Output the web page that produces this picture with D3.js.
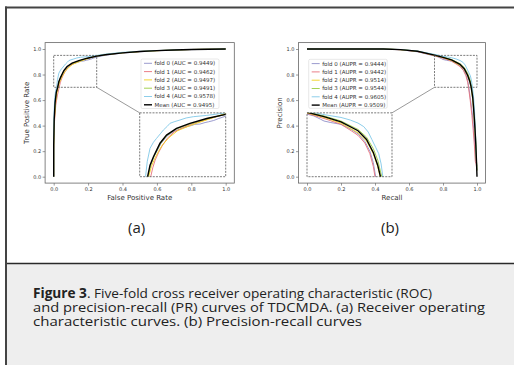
<!DOCTYPE html>
<html>
<head>
<meta charset="utf-8">
<script src="https://cdn.jsdelivr.net/npm/d3@7"></script>
<style>
  html, body { margin: 0; padding: 0; background: #fff; }
  svg { display: block; }
</style>
</head>
<body>
<svg id="fig" width="514" height="365"></svg>
<script>
// ROC curves, [false positive rate, true positive rate]
const rocFold0 = [[0,0],[0,0.25],[0.003,0.44],[0.009,0.58],[0.016,0.66],[0.024,0.70],[0.032,0.745],[0.042,0.78],[0.052,0.805],[0.062,0.83],[0.08,0.86],[0.1,0.878],[0.12,0.888],[0.14,0.897],[0.15,0.9],[0.16,0.905],[0.175,0.906],[0.19,0.912],[0.2,0.915],[0.215,0.92],[0.23,0.928],[0.25,0.937],[0.3,0.951],[0.4,0.968],[0.5,0.978],[0.6,0.986],[0.7,0.991],[0.8,0.995],[0.9,0.998],[1,1]];
const rocFold1 = [[0,0],[0,0.2],[0.004,0.42],[0.012,0.56],[0.022,0.64],[0.032,0.70],[0.038,0.735],[0.045,0.765],[0.055,0.795],[0.065,0.82],[0.08,0.85],[0.1,0.875],[0.13,0.895],[0.16,0.91],[0.2,0.926],[0.25,0.945],[0.3,0.955],[0.4,0.97],[0.5,0.98],[0.6,0.987],[0.7,0.992],[0.8,0.996],[0.9,0.998],[1,1]];
const rocFold2 = [[0,0],[0,0.22],[0.004,0.44],[0.01,0.57],[0.018,0.65],[0.026,0.70],[0.034,0.74],[0.044,0.772],[0.055,0.8],[0.066,0.824],[0.085,0.853],[0.11,0.88],[0.15,0.902],[0.2,0.925],[0.25,0.948],[0.3,0.957],[0.4,0.971],[0.5,0.98],[0.6,0.987],[0.7,0.992],[0.8,0.996],[0.9,0.998],[1,1]];
const rocFold3 = [[0,0],[0,0.24],[0.003,0.45],[0.009,0.58],[0.016,0.66],[0.024,0.70],[0.031,0.744],[0.04,0.776],[0.05,0.804],[0.06,0.829],[0.078,0.86],[0.105,0.886],[0.145,0.906],[0.195,0.927],[0.25,0.944],[0.3,0.955],[0.4,0.97],[0.5,0.98],[0.6,0.987],[0.7,0.992],[0.8,0.996],[0.9,0.998],[1,1]];
const rocFold4 = [[0,0],[0,0.3],[0.002,0.5],[0.006,0.62],[0.012,0.68],[0.017,0.70],[0.022,0.76],[0.03,0.811],[0.04,0.835],[0.049,0.85],[0.06,0.868],[0.069,0.883],[0.08,0.897],[0.088,0.909],[0.1,0.915],[0.117,0.922],[0.135,0.93],[0.156,0.935],[0.195,0.94],[0.25,0.95],[0.3,0.96],[0.4,0.974],[0.5,0.982],[0.6,0.988],[0.7,0.993],[0.8,0.996],[0.9,0.998],[1,1]];
const rocMean = [[0,0],[0,0.25],[0.003,0.45],[0.008,0.58],[0.015,0.66],[0.023,0.70],[0.03,0.745],[0.04,0.778],[0.05,0.806],[0.059,0.831],[0.078,0.863],[0.107,0.889],[0.146,0.909],[0.195,0.928],[0.25,0.944],[0.3,0.955],[0.4,0.97],[0.5,0.98],[0.6,0.987],[0.7,0.992],[0.8,0.996],[0.9,0.998],[1,1]];

// PR curves, [recall, precision]
const prFold0 = [[0,1],[0.3,1],[0.45,1],[0.55,0.994],[0.65,0.978],[0.75,0.945],[0.77,0.938],[0.79,0.925],[0.8,0.918],[0.82,0.912],[0.85,0.905],[0.88,0.885],[0.9,0.868],[0.92,0.838],[0.935,0.8],[0.945,0.755],[0.952,0.70],[0.962,0.6],[0.972,0.5],[0.98,0.38],[0.988,0.25],[0.994,0.13],[1,0.08]];
const prFold1 = [[0,1],[0.3,1],[0.45,1],[0.55,0.994],[0.65,0.98],[0.75,0.948],[0.8,0.928],[0.85,0.905],[0.88,0.88],[0.9,0.862],[0.92,0.832],[0.935,0.79],[0.945,0.74],[0.95,0.70],[0.96,0.6],[0.97,0.48],[0.978,0.36],[0.985,0.24],[0.99,0.12],[0.995,0.1],[1,0.05]];
const prFold2 = [[0,1],[0.3,1],[0.45,1],[0.55,0.995],[0.65,0.982],[0.75,0.95],[0.8,0.932],[0.85,0.91],[0.9,0.872],[0.925,0.84],[0.945,0.79],[0.958,0.74],[0.965,0.70],[0.975,0.6],[0.982,0.48],[0.988,0.36],[0.993,0.24],[0.997,0.12],[1,0.05]];
const prFold3 = [[0,1],[0.3,1],[0.45,1],[0.55,0.995],[0.65,0.983],[0.75,0.954],[0.8,0.938],[0.85,0.918],[0.9,0.885],[0.925,0.855],[0.945,0.81],[0.958,0.765],[0.97,0.70],[0.978,0.6],[0.985,0.48],[0.99,0.36],[0.994,0.24],[0.997,0.12],[1,0.05]];
const prFold4 = [[0,1],[0.3,1],[0.45,1],[0.55,0.996],[0.65,0.984],[0.75,0.958],[0.8,0.943],[0.85,0.932],[0.877,0.922],[0.9,0.91],[0.917,0.896],[0.93,0.875],[0.941,0.845],[0.952,0.815],[0.961,0.79],[0.968,0.75],[0.973,0.70],[0.98,0.62],[0.986,0.5],[0.99,0.38],[0.994,0.25],[0.997,0.12],[1,0.05]];
const prMean = [[0,1],[0.3,1],[0.45,1],[0.55,0.995],[0.65,0.982],[0.75,0.952],[0.8,0.935],[0.85,0.915],[0.9,0.88],[0.925,0.846],[0.945,0.795],[0.958,0.745],[0.966,0.70],[0.975,0.62],[0.982,0.5],[0.988,0.38],[0.993,0.25],[0.997,0.12],[1,0]];

const seriesNames = ['fold 0', 'fold 1', 'fold 2', 'fold 3', 'fold 4', 'Mean'];
const seriesColors = ['#9090c8', '#e8707a', '#f2d01c', '#9acd40', '#80c8e8', '#000000'];
const aucValues = ['0.9449', '0.9462', '0.9497', '0.9491', '0.9578', '0.9495'];
const auprValues = ['0.9444', '0.9442', '0.9514', '0.9544', '0.9605', '0.9509'];
const tickValues = [0, 0.2, 0.4, 0.6, 0.8, 1.0];

const rocSeries = [rocFold0, rocFold1, rocFold2, rocFold3, rocFold4, rocMean];
const prSeries = [prFold0, prFold1, prFold2, prFold3, prFold4, prMean];

const svg = d3.select('#fig');
const tickFont = 'DejaVu Sans, sans-serif';

function drawPanel(cfg) {
  const x = d3.scaleLinear().domain([0, 1]).range([cfg.x0, cfg.x1]);
  const y = d3.scaleLinear().domain([0, 1]).range([cfg.y0, cfg.y1]);
  const g = svg.append('g');
  const bx0 = x(-0.05), bx1 = x(1.05), by0 = y(1.05), by1 = y(-0.05);

  const line = d3.line().x(d => x(d[0])).y(d => y(d[1]));

  // axes
  const xAxis = d3.axisBottom(x).tickValues(tickValues).tickFormat(d3.format('.1f')).tickSize(2.5).tickPadding(1.5);
  const yAxis = d3.axisLeft(y).tickValues(tickValues).tickFormat(d3.format('.1f')).tickSize(2.5).tickPadding(1.5);
  const gx = g.append('g').attr('transform', `translate(0,${by1})`).call(xAxis);
  const gy = g.append('g').attr('transform', `translate(${bx0},0)`).call(yAxis);
  [gx, gy].forEach(a => {
    a.select('.domain').remove();
    a.selectAll('line').attr('stroke', '#555').attr('stroke-width', 0.6);
    a.selectAll('text').attr('font-family', tickFont).attr('font-size', 5).attr('fill', '#333');
  });

  // curves
  cfg.series.forEach((s, i) => {
    g.append('path').datum(s).attr('fill', 'none')
      .attr('stroke', seriesColors[i]).attr('stroke-width', i === 5 ? 1.4 : 0.9)
      .attr('d', line);
  });

  // zoom region box
  const z = cfg.zoom;
  g.append('rect')
    .attr('x', x(z.x[0])).attr('y', y(z.y[1]))
    .attr('width', x(z.x[1]) - x(z.x[0])).attr('height', y(z.y[0]) - y(z.y[1]))
    .attr('fill', 'none').attr('stroke', '#444').attr('stroke-width', 0.7).attr('stroke-dasharray', '2,1.2');

  // inset
  const ins = cfg.inset;
  const ix = d3.scaleLinear().domain(z.x).range([x(ins.x[0]), x(ins.x[1])]);
  const iy = d3.scaleLinear().domain(z.y).range([y(ins.y[0]), y(ins.y[1])]);
  const iline = d3.line().x(d => ix(d[0])).y(d => iy(d[1]));

  g.append('line')
    .attr('x1', x(cfg.link[0][0])).attr('y1', y(cfg.link[0][1]))
    .attr('x2', x(cfg.link[1][0])).attr('y2', y(cfg.link[1][1]))
    .attr('stroke', '#555').attr('stroke-width', 0.6);

  const clipId = cfg.id + '-clip';
  g.append('clipPath').attr('id', clipId).append('rect')
    .attr('x', x(ins.x[0])).attr('y', y(ins.y[1]))
    .attr('width', x(ins.x[1]) - x(ins.x[0])).attr('height', y(ins.y[0]) - y(ins.y[1]));
  g.append('rect')
    .attr('x', x(ins.x[0])).attr('y', y(ins.y[1]))
    .attr('width', x(ins.x[1]) - x(ins.x[0])).attr('height', y(ins.y[0]) - y(ins.y[1]))
    .attr('fill', '#fff');
  const ig = g.append('g').attr('clip-path', `url(#${clipId})`);
  cfg.series.forEach((s, i) => {
    ig.append('path').datum(s).attr('fill', 'none')
      .attr('stroke', seriesColors[i]).attr('stroke-width', i === 5 ? 1.4 : 0.9)
      .attr('d', iline);
  });
  g.append('rect')
    .attr('x', x(ins.x[0])).attr('y', y(ins.y[1]))
    .attr('width', x(ins.x[1]) - x(ins.x[0])).attr('height', y(ins.y[0]) - y(ins.y[1]))
    .attr('fill', 'none').attr('stroke', '#444').attr('stroke-width', 0.7).attr('stroke-dasharray', '2,1.2');

  // frame
  g.append('rect').attr('x', bx0).attr('y', by0).attr('width', bx1 - bx0).attr('height', by1 - by0)
    .attr('fill', 'none').attr('stroke', '#666').attr('stroke-width', 0.8);

  // legend
  const L = cfg.legend;
  const lg = g.append('g');
  lg.append('rect').attr('x', L.x).attr('y', L.y).attr('width', L.w).attr('height', L.h)
    .attr('rx', 1.5).attr('fill', '#fff').attr('fill-opacity', 0.85).attr('stroke', '#d0d0d0').attr('stroke-width', 0.5);
  seriesNames.forEach((n, i) => {
    const ey = L.y + 4.3 + i * 8.3;
    lg.append('line').attr('x1', L.x + 3).attr('x2', L.x + 11).attr('y1', ey).attr('y2', ey)
      .attr('stroke', seriesColors[i]).attr('stroke-width', i === 5 ? 1.4 : 0.9);
    lg.append('text').attr('x', L.x + 13.5).attr('y', ey + 1.9)
      .attr('font-family', tickFont).attr('font-size', 5.5).attr('fill', '#333')
      .text(`${n} (${cfg.metric} = ${cfg.values[i]})`);
  });

  // labels
  g.append('text').attr('x', (bx0 + bx1) / 2).attr('y', 199.5)
    .attr('text-anchor', 'middle').attr('font-family', tickFont).attr('font-size', 7).attr('fill', '#333')
    .text(cfg.xLabel);
  g.append('text').attr('transform', `translate(${cfg.yLabelX},${(by0 + by1) / 2}) rotate(-90)`)
    .attr('text-anchor', 'middle').attr('font-family', tickFont).attr('font-size', 7).attr('fill', '#333')
    .text(cfg.yLabel);
  g.append('text').attr('x', (bx0 + bx1) / 2 + cfg.tagDx).attr('y', 232.5)
    .attr('text-anchor', 'middle').attr('font-family', 'Open Sans, sans-serif').attr('font-size', 15).attr('fill', '#222')
    .text(cfg.tag);
}

drawPanel({
  id: 'roc', x0: 53.7, x1: 225.7, y0: 176.7, y1: 49,
  series: rocSeries,
  zoom: { x: [0, 0.25], y: [0.7, 0.95] },
  inset: { x: [0.5, 1.0], y: [0, 0.5] },
  link: [[0.25, 0.7], [0.5, 0.5]],
  legend: { x: 141, y: 59, w: 78, h: 49.5 },
  metric: 'AUC', values: aucValues,
  xLabel: 'False Positive Rate', yLabel: 'True Positive Rate', yLabelX: 29,
  tag: '(a)', tagDx: -3
});

drawPanel({
  id: 'pr', x0: 307, x1: 477, y0: 176.7, y1: 49,
  series: prSeries,
  zoom: { x: [0.75, 1.0], y: [0.7, 0.95] },
  inset: { x: [0, 0.5], y: [0, 0.5] },
  link: [[0.75, 0.7], [0.5, 0.5]],
  legend: { x: 308.7, y: 59.3, w: 78.5, h: 49 },
  metric: 'AUPR', values: auprValues,
  xLabel: 'Recall', yLabel: 'Precision', yLabelX: 282,
  tag: '(b)', tagDx: -2
});

// figure frame and caption panel
svg.append('rect').attr('x', 6).attr('y', 263).attr('width', 508).attr('height', 102).attr('fill', '#eeeeee');
svg.append('line').attr('x1', 6).attr('x2', 514).attr('y1', 263.5).attr('y2', 263.5).attr('stroke', '#2a2a2a').attr('stroke-width', 1.5);
svg.append('line').attr('x1', 5).attr('x2', 514).attr('y1', 7.5).attr('y2', 7.5).attr('stroke', '#444').attr('stroke-width', 2);
svg.append('line').attr('x1', 6).attr('x2', 6).attr('y1', 6.5).attr('y2', 365).attr('stroke', '#444').attr('stroke-width', 2);

const captionLines = [
  ['Figure 3', '. Five-fold cross receiver operating characteristic (ROC)'],
  ['', 'and precision-recall (PR) curves of TDCMDA. (a) Receiver operating'],
  ['', 'characteristic curves. (b) Precision-recall curves']
];
const captionWidths = [399, 452, 329];
const cap = svg.append('g').attr('font-family', 'Open Sans, sans-serif').attr('font-size', 13.4).attr('fill', '#222');
captionLines.forEach((l, i) => {
  const t = cap.append('text').attr('x', 33).attr('y', 297.5 + i * 14.3)
    .attr('textLength', captionWidths[i]).attr('lengthAdjust', 'spacingAndGlyphs');
  if (l[0]) t.append('tspan').attr('font-weight', 'bold').text(l[0]);
  t.append('tspan').text(l[1]);
});
</script>
</body>
</html>
